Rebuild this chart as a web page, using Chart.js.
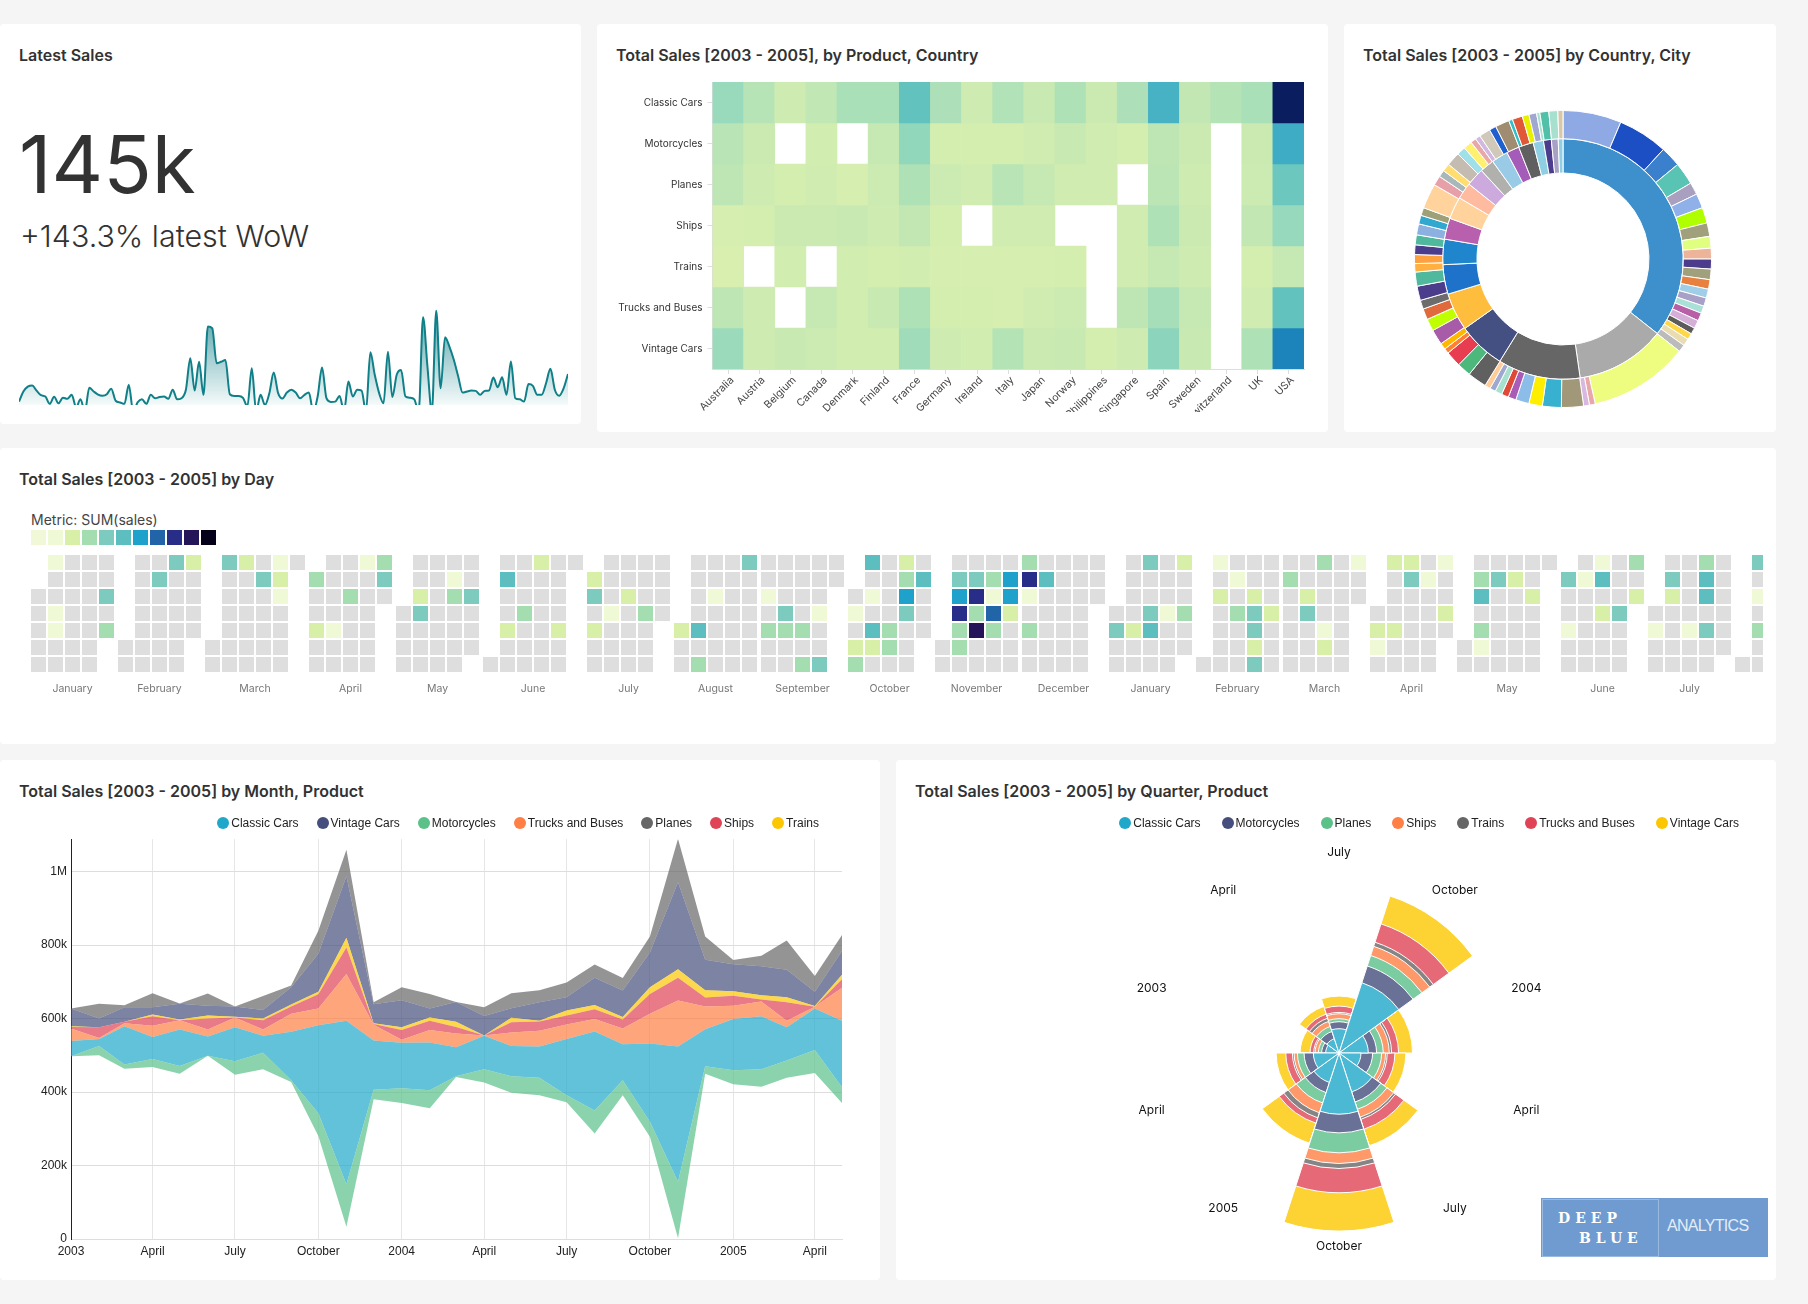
<!DOCTYPE html>
<html>
<head>
<meta charset="utf-8">
<title>Sales dashboard</title>
<script src="https://cdn.jsdelivr.net/npm/chart.js@4/dist/chart.umd.min.js"></script>
<style>
    html, body { margin: 0; padding: 0; background: #f5f5f5; }
    body { position: relative; width: 1808px; height: 1304px; overflow: hidden; font-family: Inter, sans-serif; color: #323232; }
    canvas { position: absolute; display: block; }
    .card { position: absolute; background: #fff; border-radius: 4px; }
    .title { position: absolute; font-size: 16px; font-weight: 600; line-height: 20px; white-space: nowrap; color: #323232; }
    .bigNumber { position: absolute; left: 19px; top: 117px; font-size: 80px; line-height: 94px; font-weight: 400; }
    .subheader { position: absolute; left: 20px; top: 217px; font-size: 30.4px; line-height: 38px; font-weight: 300; }
    .metric { position: absolute; left: 31px; top: 511px; font-size: 14px; line-height: 18px; color: #444; }
    .swatches { position: absolute; left: 31px; top: 530px; display: flex; gap: 2px; }
    .swatches span { display: block; width: 15px; height: 15px; }
    .legend { position: absolute; top: 815px; display: flex; gap: 21px; font-family: "Liberation Sans", sans-serif; font-size: 12px; line-height: 16px; color: #222; white-space: nowrap; }
    .legend div { display: flex; align-items: center; gap: 2px; }
    .legend i { display: block; width: 12px; height: 12px; border-radius: 50%; }
    .logo { position: absolute; left: 1541px; top: 1198px; width: 227px; height: 59px; background: #6f9bd1; z-index: 2; }
    .logo .box { position: absolute; left: 1px; top: 1px; width: 115px; height: 56px; border: 1px solid rgba(255,255,255,.3); }
    .logo b { position: absolute; font-family: "DejaVu Serif", serif; font-size: 14px; letter-spacing: 5px; color: #fff; line-height: 16px; }
    .logo em { position: absolute; left: 126px; top: 18px; font-family: "Liberation Sans", sans-serif; font-style: normal; font-size: 16px; letter-spacing: -.7px; line-height: 20px; color: #e3edf8; }
</style>
</head>
<body>
<script>
// latest sales, weekly, in $k
const weeklySales = [47, 83, 100, 104, 86, 70, 65, 39, 64, 41, 61, 57, 71, 27, 55, 12, 96, 83, 72, 68, 73, 93, 50, 44, 39, 107,
    12, 44, 55, 39, 71, 59, 63, 65, 57, 89, 55, 59, 89, 201, 86, 188, 71, 313, 307, 183, 188, 194, 73, 67, 67, 60, 30, 165,
    12, 71, 35, 77, 150, 77, 58, 79, 89, 79, 59, 71, 79, 12, 65, 168, 59, 46, 47, 67, 12, 118, 65, 89, 86, 12, 222, 142, 77,
    41, 224, 63, 142, 159, 65, 61, 55, 12, 346, 171, 12, 369, 94, 275, 242, 195, 136, 79, 83, 86, 85, 71, 85, 86, 132, 98,
    133, 71, 189, 59, 55, 47, 109, 103, 71, 71, 112, 163, 89, 68, 94, 145];

// product by country heatmap, in $k
const countries = ['Australia', 'Austria', 'Belgium', 'Canada', 'Denmark', 'Finland', 'France', 'Germany', 'Ireland', 'Italy',
    'Japan', 'Norway', 'Philippines', 'Singapore', 'Spain', 'Sweden', 'Switzerland', 'UK', 'USA'];
const heatProducts = ['Classic Cars', 'Motorcycles', 'Planes', 'Ships', 'Trains', 'Trucks and Buses', 'Vintage Cars'];
const heatClassicCars = [290, 170, 60, 130, 220, 220, 500, 210, 60, 190, 90, 200, 80, 210, 620, 120, 180, 220, 1000];
const heatMotorcycles = [160, 80, null, 40, null, 100, 320, 30, 30, 30, 50, 90, 50, 30, 140, 80, null, 80, 660];
const heatPlanes = [140, 60, 30, 50, 20, 70, 200, 70, 50, 160, 100, 50, 50, null, 150, 60, null, 70, 460];
const heatShips = [20, 30, 80, 80, 90, 60, 120, 30, null, 50, 50, null, null, 50, 200, 80, null, 120, 300];
const heatTrains = [10, null, 40, null, 40, 30, 40, 20, 20, 20, 20, 30, null, 50, 100, 60, null, 30, 100];
const heatTrucks = [140, 60, null, 100, 40, 90, 200, 30, 30, 20, 50, 70, null, 140, 240, 100, null, 50, 500];
const heatVintage = [280, 60, 90, 70, 40, 40, 260, 60, 40, 180, 80, 90, 30, 60, 340, 90, null, 200, 760];
const heatRows = [heatClassicCars, heatMotorcycles, heatPlanes, heatShips, heatTrains, heatTrucks, heatVintage];
const heatRamp = [[0, 218, 240, 175], [140, 190, 230, 180], [300, 150, 217, 188], [500, 98, 195, 190], [660, 62, 172, 197], [760, 28, 132, 186], [1000, 10, 30, 95]];

// sunburst, in $k
const countrySales = [3585, 1214, 1116, 642, 511, 399, 343, 285, 301, 223, 246, 193, 223, 173, 201, 140, 106, 92, 64];
const citySales = [641, 549, 224, 246, 134, 160, 171, 148, 129, 118, 109, 115, 104, 98, 92, 81, 87, 90, 70, 70, 78, 81, 1092, 64,
    64, 241, 207, 148, 146, 87, 78, 76, 64, 62, 210, 154, 171, 56, 70, 168, 134, 120, 98, 157, 154, 92, 98, 106, 109, 120, 95,
    87, 274, 106, 76, 87, 151, 95, 95, 62, 56, 123, 76, 154, 42, 112, 73, 84, 36, 98, 98, 56];
const countryColors = ['#3d90cc', '#aaaaaa', '#666666', '#445082', '#ffbd3d', '#1f72c9', '#1f85cc', '#b85fae', '#ffd39b', '#ffbb9f',
    '#cdaadd', '#b0b0ac', '#9acbe6', '#a45cb8', '#606060', '#8fcfe3', '#4c3c8c', '#a9a0c5', '#8fcfe3'];
const cityColors = ['#8fa9e4', '#1d4fc4', '#3a80cc', '#59c4b4', '#a9a0c0', '#8fb0e8', '#b0ff00', '#a0a07c', '#e0ff80', '#eeb49a',
    '#4c3c8c', '#a0a07c', '#e88040', '#a0cde8', '#a9a0c8', '#a9e0d8', '#b85fa8', '#d4b0d8', '#5c5c5c', '#ffd84a', '#e8dcb0',
    '#bbbbbb', '#eefc80', '#e8a8a8', '#d8b8e0', '#a09878', '#38b0d0', '#ffee00', '#8cbce8', '#a85cb8', '#e04838', '#a8e0d0',
    '#9ea8d0', '#ffcc99', '#606060', '#4cb87c', '#e83c50', '#ff8030', '#ffb800', '#a85ca8', '#bfff00', '#e06a3c', '#6c6c6c',
    '#4c3c8c', '#50b89c', '#ffb040', '#ffa040', '#4c3c8c', '#50b89c', '#8cb0e0', '#30a8d0', '#a0a078', '#ffd39b', '#e8a0a8',
    '#a8b8b8', '#ffdd70', '#c4bcb0', '#a0e0e8', '#fff070', '#e8a8a8', '#d0b8e0', '#d0c8b8', '#1f5fd0', '#a08c70', '#30c0c8',
    '#e05838', '#e8f000', '#a0a8d0', '#a8e0d0', '#50c0a8', '#a8e0d0', '#d8c8a8'];

// calendar: [day of month, legend bucket] for each month from January 2003 on, days not listed are empty
const calendarLegend = ['#f0f8d7', '#f0f9d6', '#d7efa7', '#a4deb0', '#7ccbbe', '#5cbebf', '#1ea2cc', '#2264a8', '#282d87', '#241458', '#040019'];
const calendarMonths = ['January', 'February', 'March', 'April', 'May', 'June', 'July', 'August', 'September', 'October', 'November', 'December'];
const calendarDays = [
    [[6, 1], [9, 1], [10, 1], [29, 4], [31, 3]],
    [[17, 4], [24, 2], [11, 4]],
    [[3, 4], [10, 2], [24, 1], [18, 4], [25, 2], [26, 1]],
    [[21, 1], [28, 3], [1, 3], [29, 4], [16, 3], [4, 2], [11, 1]],
    [[20, 1], [7, 2], [21, 3], [28, 4], [8, 4]],
    [[16, 2], [3, 5], [12, 3], [6, 2], [27, 2]],
    [[1, 2], [2, 4], [10, 1], [4, 2], [16, 2], [24, 3]],
    [[25, 4], [13, 1], [1, 2], [8, 5], [10, 3]],
    [[3, 1], [11, 4], [25, 1], [5, 3], [12, 3], [19, 3], [21, 3], [28, 4]],
    [[6, 5], [20, 2], [21, 3], [28, 5], [8, 1], [22, 6], [2, 1], [23, 4], [10, 5], [17, 3], [4, 2], [11, 2], [18, 3], [5, 3]],
    [[4, 4], [11, 4], [18, 3], [25, 6], [5, 6], [12, 8], [19, 1], [26, 6], [6, 8], [13, 3], [20, 7], [27, 2], [7, 3], [14, 9], [21, 3], [8, 3]],
    [[1, 3], [2, 8], [9, 5], [3, 1], [5, 3]],
    [[12, 4], [26, 2], [15, 4], [22, 1], [29, 3], [2, 4], [9, 2], [16, 5]],
    [[2, 1], [10, 1], [4, 2], [18, 2], [12, 3], [19, 4], [26, 2], [20, 4], [21, 2], [22, 4]],
    [[15, 3], [29, 1], [2, 3], [10, 2], [11, 4], [19, 1], [20, 2]],
    [[5, 2], [12, 2], [26, 1], [13, 4], [20, 1], [29, 2], [2, 2], [9, 2], [3, 1]],
    [[4, 3], [11, 4], [18, 2], [5, 5], [26, 2], [7, 3], [8, 1]],
    [[14, 1], [28, 3], [1, 4], [8, 1], [15, 5], [30, 2], [17, 2], [24, 4], [4, 1]],
    [[19, 3], [6, 4], [20, 5], [7, 2], [21, 5], [2, 1], [16, 1], [23, 4]],
    [[2, 4], [4, 1], [6, 3]]
];

// monthly sales by product, in $k, first list is the stream baseline
const salesMonths = ['2003-01', '2003-02', '2003-03', '2003-04', '2003-05', '2003-06', '2003-07', '2003-08', '2003-09', '2003-10', '2003-11', '2003-12',
    '2004-01', '2004-02', '2004-03', '2004-04', '2004-05', '2004-06', '2004-07', '2004-08', '2004-09', '2004-10', '2004-11', '2004-12',
    '2005-01', '2005-02', '2005-03', '2005-04', '2005-05'];
const streamBaseline = [497, 500, 463, 468, 450, 499, 447, 462, 427, 280, 33, 380, 370, 356, 441, 426, 398, 391, 372, 287, 391, 278, 2, 450, 421, 414, 439, 452, 370];
const monthMotorcycles = [0, 25, 12, 22, 21, 0, 37, 45, 5, 62, 116, 26, 40, 49, 2, 36, 45, 48, 19, 63, 41, 41, 154, 20, 38, 48, 47, 62, 43];
const monthClassicCars = [42, 19, 104, 60, 99, 52, 92, 46, 132, 240, 445, 134, 124, 130, 79, 91, 82, 85, 153, 215, 98, 213, 368, 101, 140, 144, 90, 113, 181];
const monthTrucks = [34, 3, 8, 30, 25, 19, 27, 17, 49, 45, 127, 43, 8, 34, 37, 1, 37, 43, 40, 34, 43, 81, 125, 62, 36, 40, 18, 5, 90];
const monthShips = [4, 29, 4, 26, 0, 30, 0, 25, 20, 39, 72, 2, 27, 25, 18, 0, 28, 25, 24, 26, 24, 54, 62, 24, 27, 6, 50, 0, 23];
const monthTrains = [2, 0, 0, 5, 2, 8, 2, 5, 5, 7, 27, 2, 7, 9, 14, 0, 12, 2, 14, 12, 7, 18, 23, 20, 12, 11, 14, 2, 12];
const monthVintage = [48, 24, 40, 20, 43, 27, 28, 23, 47, 103, 167, 52, 74, 24, 54, 53, 26, 50, 36, 74, 72, 95, 237, 83, 74, 79, 75, 39, 65];
const monthPlanes = [0, 40, 5, 38, 1, 33, 0, 38, 5, 63, 72, 5, 35, 40, 0, 24, 41, 33, 40, 36, 34, 43, 118, 63, 11, 29, 79, 43, 43];
const streamTicks = [['2003-01', '2003'], ['2003-04', 'April'], ['2003-07', 'July'], ['2003-10', 'October'], ['2004-01', '2004'], ['2004-04', 'April'],
    ['2004-07', 'July'], ['2004-10', 'October'], ['2005-01', '2005'], ['2005-04', 'April']];

// quarterly sales by product, in $k
const quarters = ['2003', 'April', 'July', 'October', '2004', 'April', 'July', 'October', '2005', 'April'];
const quarterClassicCars = [40, 45, 73, 222, 88, 66, 123, 184, 93, 77];
const quarterMotorcycles = [12, 23, 21, 53, 25, 35, 32, 56, 32, 28];
const quarterPlanes = [10, 16, 9, 33, 20, 27, 23, 60, 33, 20];
const quarterShips = [10, 16, 15, 29, 18, 12, 25, 32, 31, 10];
const quarterTrains = [4, 10, 4, 13, 7, 5, 7, 15, 16, 5];
const quarterTrucks = [11, 13, 19, 58, 21, 23, 31, 73, 17, 20];
const quarterVintage = [30, 24, 30, 88, 42, 33, 52, 115, 63, 29];

const COLORS = {
    'Classic Cars': '31,168,201', 'Vintage Cars': '69,78,124', 'Motorcycles': '90,193,137', 'Trucks and Buses': '255,127,68',
    'Planes': '102,102,102', 'Ships': '224,67,85', 'Trains': '252,199,0'
};
const QUARTER_COLORS = ['31,168,201', '69,78,124', '90,193,137', '255,127,68', '102,102,102', '224,67,85', '252,199,0'];

Chart.defaults.animation = false;
Chart.defaults.responsive = false;
Chart.defaults.maintainAspectRatio = false;
Chart.defaults.plugins.legend.display = false;
Chart.defaults.plugins.tooltip.enabled = false;
Chart.defaults.font.family = 'Inter, sans-serif';
Chart.defaults.layout.autoPadding = false;

function addDiv(className, style, text) {
    const div = document.createElement('div');
    div.className = className;
    if (style) div.style.cssText = style;
    if (text) div.textContent = text;
    document.body.appendChild(div);
    return div;
}

function addCanvas(left, top, width, height) {
    const canvas = document.createElement('canvas');
    canvas.width = width;
    canvas.height = height;
    canvas.style.left = left + 'px';
    canvas.style.top = top + 'px';
    canvas.style.width = width + 'px';
    canvas.style.height = height + 'px';
    document.body.appendChild(canvas);
    return canvas;
}

function addLegend(right, gap, names, colors) {
    const legend = addDiv('legend', 'right:' + (1808 - right) + 'px;gap:' + gap + 'px');
    names.forEach(function (name, i) {
        const item = document.createElement('div');
        item.innerHTML = '<i style="background:rgb(' + colors[i] + ')"></i>' + name;
        legend.appendChild(item);
    });
}

function heatColor(value) {
    for (let i = 1; i < heatRamp.length; i++) {
        if (value <= heatRamp[i][0]) {
            const a = heatRamp[i - 1], b = heatRamp[i];
            const t = (value - a[0]) / (b[0] - a[0]);
            return 'rgb(' + [1, 2, 3].map(k => Math.round(a[k] + (b[k] - a[k]) * t)).join(',') + ')';
        }
    }
    return 'rgb(10,30,95)';
}

// page frame
[[0, 24, 581, 400], [597, 24, 731, 408], [1344, 24, 432, 408], [0, 448, 1776, 296], [0, 760, 880, 520], [896, 760, 880, 520]].forEach(function (c) {
    addDiv('card', 'left:' + c[0] + 'px;top:' + c[1] + 'px;width:' + c[2] + 'px;height:' + c[3] + 'px');
});
[[19, 45, 'Latest Sales'], [616, 45, 'Total Sales [2003 - 2005], by Product, Country'], [1363, 45, 'Total Sales [2003 - 2005] by Country, City'],
    [19, 469, 'Total Sales [2003 - 2005] by Day'], [19, 781, 'Total Sales [2003 - 2005] by Month, Product'], [915, 781, 'Total Sales [2003 - 2005] by Quarter, Product']].forEach(function (t) {
    addDiv('title', 'left:' + t[0] + 'px;top:' + t[1] + 'px', t[2]);
});

// big number with trendline
addDiv('bigNumber', '', '145k');
addDiv('subheader', '', '+143.3% latest WoW');
new Chart(addCanvas(19, 300, 549, 105), {
    type: 'line',
    data: {
        labels: weeklySales.map((v, i) => i),
        datasets: [{
            data: weeklySales,
            borderColor: '#0f7f88',
            borderWidth: 2,
            pointRadius: 0,
            cubicInterpolationMode: 'monotone',
            fill: 'start',
            backgroundColor: function (ctx) {
                const area = ctx.chart.chartArea;
                if (!area) return 'transparent';
                const gradient = ctx.chart.ctx.createLinearGradient(0, area.top, 0, area.bottom);
                gradient.addColorStop(0, 'rgba(15,127,136,.8)');
                gradient.addColorStop(1, 'rgba(15,127,136,.04)');
                return gradient;
            }
        }]
    },
    options: {
        layout: { padding: 0 },
        scales: {
            x: { display: false },
            y: { display: false, min: 35, max: 407 }
        }
    }
});

// product by country heatmap
new Chart(addCanvas(600, 70, 722, 342), {
    type: 'bar',
    data: {
        labels: countries,
        datasets: heatRows.map(function (row, r) {
            return {
                data: row.map(v => v === null ? null : [r, r + 1]),
                backgroundColor: row.map(v => v === null ? 'transparent' : heatColor(v)),
                grouped: false,
                barPercentage: 1,
                categoryPercentage: 1,
                borderWidth: 0
            };
        })
    },
    options: {
        layout: { padding: { top: 12, right: 18 } },
        scales: {
            x: {
                afterFit: axis => { axis.height = 43; },
                grid: { drawOnChartArea: false, offset: false, color: '#dddddd', tickLength: 5 },
                border: { color: '#dddddd' },
                ticks: { autoSkip: false, minRotation: 45, maxRotation: 45, labelOffset: 4, font: { size: 10.5 }, color: '#444', padding: 0 }
            },
            y: {
                min: 0,
                max: 7,
                reverse: true,
                afterFit: axis => { axis.width = 112.5; },
                afterBuildTicks: axis => { axis.ticks = heatProducts.map((p, i) => ({ value: i + 0.5 })); },
                grid: { drawOnChartArea: false, color: '#dddddd', tickLength: 5 },
                border: { color: '#dddddd' },
                ticks: { autoSkip: false, font: { size: 10 }, color: '#333', padding: 5, callback: (v, i) => heatProducts[i] }
            }
        }
    }
});

// country, city sunburst
new Chart(addCanvas(1414, 110, 298, 298), {
    type: 'doughnut',
    data: {
        datasets: [
            { data: citySales, backgroundColor: cityColors, borderColor: '#fff', borderWidth: 1, weight: 28 },
            { data: countrySales, backgroundColor: countryColors, borderColor: '#fff', borderWidth: 1, weight: 34 }
        ]
    },
    options: { cutout: 86 }
});

// calendar, one column per week and a small gap between months
const calendarCells = [];
const monthTicks = [];
let monthBase = 0;
calendarDays.forEach(function (listed, m) {
    const year = 2003 + Math.floor(m / 12);
    const month = m % 12;
    const firstRow = (new Date(Date.UTC(year, month, 1)).getUTCDay() + 6) % 7;
    const dayCount = new Date(Date.UTC(year, month + 1, 0)).getUTCDate();
    const columns = Math.floor((dayCount - 1 + firstRow) / 7) + 1;
    for (let d = 1; d <= dayCount; d++) {
        const hit = listed.find(e => e[0] === d);
        calendarCells.push({
            x: monthBase + Math.floor((d - 1 + firstRow) / 7),
            y: (d - 1 + firstRow) % 7,
            bucket: hit ? hit[1] : null
        });
    }
    monthTicks.push({ value: monthBase + (columns - 1) / 2, label: calendarMonths[month] });
    monthBase += columns + 2 / 17;
});
addDiv('metric', '', 'Metric: SUM(sales)');
const swatches = addDiv('swatches');
calendarLegend.forEach(function (color) {
    const swatch = document.createElement('span');
    swatch.style.background = color;
    swatches.appendChild(swatch);
});
new Chart(addCanvas(0, 554, 1763, 150), {
    type: 'scatter',
    data: {
        datasets: [{
            data: calendarCells,
            pointStyle: 'rect',
            pointRadius: 10.6,
            pointBorderWidth: 0,
            pointBackgroundColor: ctx => ctx.raw && ctx.raw.bucket !== null ? calendarLegend[ctx.raw.bucket] : '#dedede',
            clip: false
        }]
    },
    options: {
        layout: { padding: 0 },
        scales: {
            x: {
                type: 'linear',
                min: -38.5 / 17,
                max: (1763 - 38.5) / 17,
                afterFit: axis => { axis.height = 31; },
                afterBuildTicks: axis => { axis.ticks = monthTicks.slice(0, 19).map(t => ({ value: t.value })); },
                grid: { display: false },
                border: { display: false },
                ticks: { autoSkip: false, maxRotation: 0, font: { size: 10.5 }, color: '#777', padding: 2, callback: (v, i) => monthTicks[i].label }
            },
            y: { display: false, min: -0.5, max: 6.5, reverse: true }
        }
    }
});

// monthly stream
const streamNames = ['Motorcycles', 'Classic Cars', 'Trucks and Buses', 'Ships', 'Trains', 'Vintage Cars', 'Planes'];
const streamSeries = [monthMotorcycles, monthClassicCars, monthTrucks, monthShips, monthTrains, monthVintage, monthPlanes];
const monthX = m => Date.UTC(+m.slice(0, 4), +m.slice(5) - 1, 1);
const toPoints = values => values.map((v, i) => ({ x: monthX(salesMonths[i]), y: v }));
const streamSets = [{ data: toPoints(streamBaseline), borderWidth: 0, pointRadius: 0, fill: false, backgroundColor: 'transparent' }];
streamSeries.forEach(function (values, i) {
    streamSets.push({
        data: toPoints(values),
        borderWidth: 0,
        pointRadius: 0,
        fill: '-1',
        backgroundColor: 'rgba(' + COLORS[streamNames[i]] + ',.7)'
    });
});
new Chart(addCanvas(0, 828, 880, 441), {
    type: 'line',
    data: { datasets: streamSets },
    options: {
        layout: { padding: { top: 8, right: 38 } },
        scales: {
            x: {
                type: 'linear',
                min: monthX('2003-01'),
                max: monthX('2005-05'),
                afterFit: axis => { axis.height = 30; },
                afterBuildTicks: axis => { axis.ticks = streamTicks.map(t => ({ value: monthX(t[0]) })); },
                grid: { color: '#e6e6e6', drawTicks: false },
                border: { color: '#dddddd' },
                ticks: { autoSkip: false, maxRotation: 0, font: { family: '"Liberation Sans", sans-serif', size: 12 }, color: '#222', padding: 5, callback: (v, i) => streamTicks[i][1] }
            },
            y: {
                stacked: true,
                min: 0,
                max: 1088,
                afterFit: axis => { axis.width = 71; },
                grid: { color: '#dddddd', drawTicks: false },
                border: { color: '#222' },
                ticks: {
                    stepSize: 200,
                    includeBounds: false,
                    font: { family: '"Liberation Sans", sans-serif', size: 12 },
                    color: '#222',
                    padding: 4,
                    callback: v => v >= 1000 ? (v / 1000) + 'M' : v === 0 ? '0' : v + 'k'
                }
            }
        }
    }
});
const streamLegend = ['Classic Cars', 'Vintage Cars', 'Motorcycles', 'Trucks and Buses', 'Planes', 'Ships', 'Trains'];
addLegend(819, 18, streamLegend, streamLegend.map(n => COLORS[n]));

// quarterly rose, rings are drawn as running totals with the smallest on top
const roseSeries = [quarterClassicCars, quarterMotorcycles, quarterPlanes, quarterShips, quarterTrains, quarterTrucks, quarterVintage];
const runningTotal = quarters.map(() => 0);
const roseSets = roseSeries.map(function (values, s) {
    values.forEach((v, i) => { runningTotal[i] += v; });
    // the running totals overlap, so the fills have to be opaque
    const c = QUARTER_COLORS[s].split(',').map(Number);
    return {
        data: runningTotal.slice(),
        backgroundColor: 'rgb(' + c.map(k => Math.round(k * 0.8 + 255 * 0.2)).join(',') + ')',
        borderColor: '#fff',
        borderWidth: 1
    };
});
const roseLabels = {
    id: 'roseLabels',
    afterDraw: function (chart) {
        const scale = chart.scales.r;
        const ctx = chart.ctx;
        ctx.save();
        ctx.font = '12px Inter, sans-serif';
        ctx.fillStyle = '#111';
        ctx.textAlign = 'center';
        ctx.textBaseline = 'middle';
        quarters.forEach(function (label, i) {
            const pos = scale.getPointPosition(i, 197, Math.PI / quarters.length);
            ctx.fillText(label, pos.x, pos.y - 3.5);
        });
        ctx.restore();
    }
};
new Chart(addCanvas(1114, 828, 450, 450), {
    type: 'polarArea',
    data: { labels: quarters, datasets: roseSets },
    options: {
        layout: { padding: 0 },
        scales: {
            r: {
                min: 0,
                max: 676,
                startAngle: -90,
                ticks: { display: false },
                grid: { display: false },
                angleLines: { display: false },
                pointLabels: { display: false }
            }
        }
    },
    plugins: [roseLabels]
});
addLegend(1739, 21, ['Classic Cars', 'Motorcycles', 'Planes', 'Ships', 'Trains', 'Trucks and Buses', 'Vintage Cars'], QUARTER_COLORS);

// logo
const logo = addDiv('logo');
logo.innerHTML = '<div class="box"></div><b style="left:17px;top:12px">DEEP</b><b style="left:38px;top:32px">BLUE</b><em>ANALYTICS</em>';
</script>
</body>
</html>
